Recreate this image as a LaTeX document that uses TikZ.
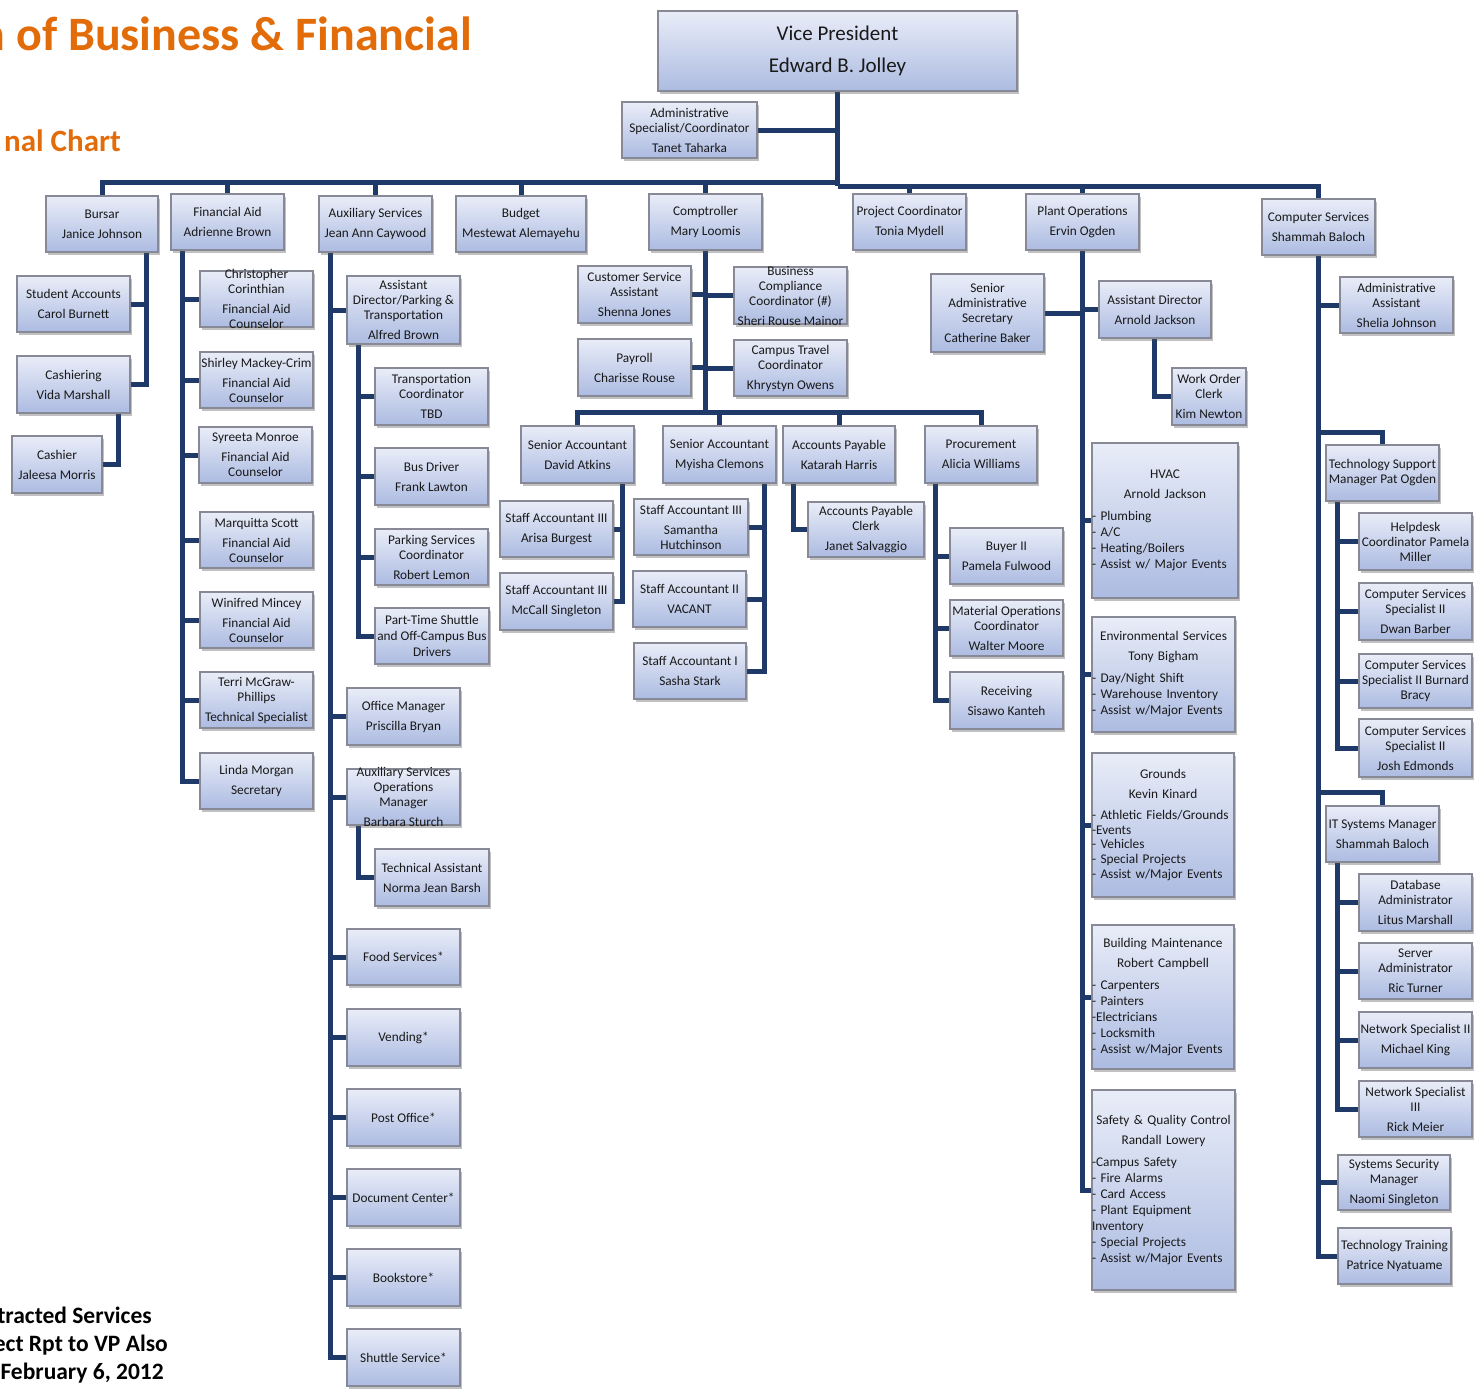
\documentclass[tikz,border=0pt]{standalone}
\usepackage{fontspec}
\setmainfont{Carlito}
\usetikzlibrary{shadows}
\definecolor{navy}{RGB}{31,58,104}
\definecolor{boxtop}{RGB}{233,237,248}
\definecolor{boxbot}{RGB}{172,187,225}
\definecolor{boxline}{RGB}{135,138,150}
\definecolor{ttl}{RGB}{227,108,10}
\pgfdeclarelayer{bg}
\pgfsetlayers{bg,main}
\newcommand\bx[7][]{%
 \pgfmathsetmacro\bw{#5-#3}\pgfmathsetmacro\bh{#6-#4}%
 \pgfmathsetmacro\bcx{(#3+#5)/2}\pgfmathsetmacro\bcy{(#4+#6)/2}%
 \node[box, minimum width=\bw pt, minimum height=\bh pt] (#2) at (\bcx,\bcy) {};
 \node[txt,#1] (#2-t) at (#2.center) {#7};}
\newcommand\lbx[8][16pt]{%
 \pgfmathsetmacro\bw{#5-#3}\pgfmathsetmacro\bh{#6-#4}%
 \pgfmathsetmacro\bcx{(#3+#5)/2}\pgfmathsetmacro\bcy{(#4+#6)/2}%
 \node[box, minimum width=\bw pt, minimum height=\bh pt] (#2) at (\bcx,\bcy) {};
 \node[txt, text width=\bw pt, align=left] (#2-t) at (#2.center)
   {{\centering #7\par}\vspace{6pt}{\baselineskip=#1\relax #8\par}};}
\begin{document}
\begin{tikzpicture}[x=1pt,y=-1pt,
  conn/.style={draw=navy,line width=5pt},
  box/.style={draw=boxline,line width=1.3pt,top color=boxtop,bottom color=boxbot,inner sep=0pt,
    drop shadow={shadow xshift=1.5pt,shadow yshift=-2.5pt,opacity=0.35,fill=black!70}},
  txt/.style={font=\fontsize{13.3}{15}\selectfont, align=center, inner sep=0pt, text=black!90},
  ttlstyle/.style={anchor=base east, inner sep=0pt, text=ttl},
  note/.style={anchor=base east, inner sep=0pt, text=black, font=\fontsize{23.5}{28}\selectfont\bfseries}]
\useasboundingbox (0,0) rectangle (1480,1390);

% titles and notes
\node[ttlstyle, font=\fontsize{48}{50}\selectfont\bfseries] (title1) at (472,50) {n of Business \& Financial};
\node[ttlstyle, font=\fontsize{31}{33}\selectfont\bfseries] (title2) at (121,151) {nal Chart};
\node[note] (n1) at (152,1323) {tracted Services};
\node[note] (n2) at (168,1351) {ect Rpt to VP Also};
\node[note] (n3) at (164,1379) {February 6, 2012};

% top
\bx[font=\fontsize{21}{32}\selectfont]{vp}{658}{11}{1017}{91}{Vice President\\Edward B. Jolley}
\bx{admspec}{622}{102}{757}{158}{Administrative\\Specialist/Coordinator\\[5pt]Tanet Taharka}

% level 1
\bx{bursar}{46}{196}{158}{252}{Bursar\\[5pt]Janice Johnson}
\bx{finaid}{171}{194}{284}{250}{Financial Aid\\[5pt]Adrienne Brown}
\bx{aux}{319}{196}{432}{252}{Auxiliary Services\\[5pt]Jean Ann Caywood}
\bx{budget}{456}{196}{586}{252}{Budget\\[5pt]Mestewat Alemayehu}
\bx{compt}{649}{194}{762}{250}{Comptroller\\[5pt]Mary Loomis}
\bx{projc}{853}{194}{966}{250}{Project Coordinator\\[5pt]Tonia Mydell}
\bx{plant}{1026}{194}{1139}{250}{Plant Operations\\[5pt]Ervin Ogden}
\bx{cs}{1262}{199}{1375}{255}{Computer Services\\[5pt]Shammah Baloch}

% bursar
\bx{stacc}{17}{276}{130}{332}{Student Accounts\\[5pt]Carol Burnett}
\bx{cashg}{17}{356}{130}{413}{Cashiering\\[5pt]Vida Marshall}
\bx{cashr}{12}{436}{102}{493}{Cashier\\[5pt]Jaleesa Morris}

% financial aid
\bx{fa1}{200}{271}{313}{327}{Christopher\\Corinthian\\[5pt]Financial Aid\\Counselor}
\bx{fa2}{200}{352}{313}{408}{Shirley Mackey-Crim\\[5pt]Financial Aid\\Counselor}
\bx{fa3}{199}{427}{312}{483}{Syreeta Monroe\\[5pt]Financial Aid\\Counselor}
\bx{fa4}{200}{512}{313}{568}{Marquitta Scott\\[5pt]Financial Aid\\Counselor}
\bx{fa5}{200}{592}{313}{648}{Winifred Mincey\\[5pt]Financial Aid\\Counselor}
\bx{fa6}{200}{672}{313}{728}{Terri McGraw-\\Phillips\\[5pt]Technical Specialist}
\bx{fa7}{200}{753}{313}{809}{Linda Morgan\\[5pt]Secretary}

% auxiliary
\bx{adpt}{347}{276}{460}{344}{Assistant\\Director/Parking \&\\Transportation\\[5pt]Alfred Brown}
\bx{trc}{375}{368}{488}{425}{Transportation\\Coordinator\\[5pt]TBD}
\bx{busd}{375}{448}{488}{505}{Bus Driver\\[5pt]Frank Lawton}
\bx{psc}{375}{529}{488}{585}{Parking Services\\Coordinator\\[5pt]Robert Lemon}
\bx{pts}{375}{608}{489}{664}{Part-Time Shuttle\\[1pt]and Off-Campus Bus\\[1pt]Drivers}
\bx{offm}{347}{688}{460}{745}{Office Manager\\[5pt]Priscilla Bryan}
\bx{asom}{347}{769}{460}{825}{Auxiliary Services\\Operations\\Manager\\[5pt]Barbara Sturch}
\bx{techa}{375}{849}{489}{906}{Technical Assistant\\[5pt]Norma Jean Barsh}
\bx{food}{347}{929}{460}{985}{Food Services*}
\bx{vend}{347}{1009}{460}{1066}{Vending*}
\bx{post}{347}{1089}{460}{1146}{Post Office*}
\bx{doc}{347}{1169}{460}{1226}{Document Center*}
\bx{book}{347}{1249}{460}{1306}{Bookstore*}
\bx{shut}{347}{1329}{460}{1386}{Shuttle Service*}

% comptroller
\bx{csa}{578}{266}{691}{323}{Customer Service\\Assistant\\[5pt]Shenna Jones}
\bx{bcc}{734}{267}{847}{324}{Business\\Compliance\\Coordinator (\#)\\[5pt]Sheri Rouse Mainor}
\bx{payr}{578}{339}{691}{396}{Payroll\\[5pt]Charisse Rouse}
\bx{ctc}{734}{340}{847}{396}{Campus Travel\\Coordinator\\[5pt]Khrystyn Owens}
\bx{sa1}{521}{426}{634}{483}{Senior Accountant\\[5pt]David Atkins}
\bx{sa2}{663}{426}{776}{483}{Senior Accountant\\[5pt]Myisha Clemons}
\bx{ap}{783}{426}{895}{483}{Accounts Payable\\[5pt]Katarah Harris}
\bx{proc}{925}{426}{1037}{483}{Procurement\\[5pt]Alicia Williams}
\bx{st1}{500}{501}{613}{557}{Staff Accountant III\\[5pt]Arisa Burgest}
\bx{st2}{500}{573}{613}{630}{Staff Accountant III\\[5pt]McCall Singleton}
\bx{st3}{634}{499}{748}{555}{Staff Accountant III\\[5pt]Samantha\\Hutchinson}
\bx{st4}{633}{571}{746}{627}{Staff Accountant II\\[5pt]VACANT}
\bx{st5}{634}{643}{746}{699}{Staff Accountant I\\[5pt]Sasha Stark}
\bx{apc}{808}{502}{924}{557}{Accounts Payable\\Clerk\\[5pt]Janet Salvaggio}
\bx{buy}{950}{528}{1063}{584}{Buyer II\\[5pt]Pamela Fulwood}
\bx{moc}{950}{600}{1063}{656}{Material Operations\\Coordinator\\[5pt]Walter Moore}
\bx{recv}{950}{672}{1063}{729}{Receiving\\[5pt]Sisawo Kanteh}

% plant operations
\bx{sas}{931}{274}{1044}{352}{Senior\\Administrative\\Secretary\\[5pt]Catherine Baker}
\bx{adpo}{1099}{281}{1211}{338}{Assistant Director\\[5pt]Arnold Jackson}
\bx{woc}{1172}{368}{1246}{425}{Work Order\\Clerk\\[5pt]Kim Newton}
\lbx{hvac}{1092}{443}{1238}{598}{HVAC\\[5pt]Arnold Jackson}{- Plumbing\\- A/C\\- Heating/Boilers\\- Assist w/ Major Events}
\lbx{env}{1092}{617}{1235}{732}{Environmental Services\\[5pt]Tony Bigham}{- Day/Night Shift\\- Warehouse Inventory\\- Assist w/Major Events}
\lbx[14.7pt]{grnd}{1092}{753}{1234}{897}{Grounds\\[5pt]Kevin Kinard}{- Athletic Fields/Grounds\\-Events\\- Vehicles\\- Special Projects\\- Assist w/Major Events}
\lbx{bldg}{1092}{925}{1234}{1069}{Building Maintenance\\[5pt]Robert Campbell}{- Carpenters\\- Painters\\-Electricians\\- Locksmith\\- Assist w/Major Events}
\lbx{safe}{1092}{1090}{1235}{1290}{Safety \& Quality Control\\[5pt]Randall Lowery}{-Campus Safety\\- Fire Alarms\\- Card Access\\- Plant Equipment\\Inventory\\- Special Projects\\- Assist w/Major Events}

% computer services
\bx{aa}{1340}{277}{1453}{333}{Administrative\\Assistant\\[5pt]Shelia Johnson}
\bx{tsm}{1326}{445}{1439}{501}{Technology Support\\Manager Pat Ogden}
\bx{hd}{1359}{513}{1472}{570}{Helpdesk\\Coordinator Pamela\\Miller}
\bx{css1}{1359}{583}{1472}{640}{Computer Services\\Specialist II\\[5pt]Dwan Barber}
\bx{css2}{1359}{654}{1472}{708}{Computer Services\\Specialist II Burnard\\Bracy}
\bx{css3}{1359}{719}{1472}{777}{Computer Services\\Specialist II\\[5pt]Josh Edmonds}
\bx{itsm}{1326}{806}{1439}{862}{IT Systems Manager\\[5pt]Shammah Baloch}
\bx{dba}{1359}{874}{1472}{931}{Database\\Administrator\\[5pt]Litus Marshall}
\bx{srv}{1359}{943}{1472}{999}{Server\\Administrator\\[5pt]Ric Turner}
\bx{ns2}{1359}{1012}{1472}{1068}{Network Specialist II\\[5pt]Michael King}
\bx{ns3}{1359}{1081}{1472}{1137}{Network Specialist\\III\\[5pt]Rick Meier}
\bx{ssm}{1338}{1155}{1450}{1210}{Systems Security\\Manager\\[5pt]Naomi Singleton}
\bx{tt}{1338}{1228}{1451}{1284}{Technology Training\\[5pt]Patrice Nyatuame}

% ---------- connectors ----------
\begin{pgfonlayer}{bg}
\coordinate (jL) at (837.5,182);
\coordinate (jR) at (837.5,186);
\draw[conn] (vp.south) -- (jR);
\draw[conn] (admspec.east) -- (admspec.east -| vp.south);
\draw[conn] (bursar.north) |- (jL);
\foreach \n in {finaid,aux,budget,compt} \draw[conn] (\n.north) -- (\n.north |- jL);
\draw[conn] (cs.north) |- (jR);
\foreach \n in {projc,plant} \draw[conn] (\n.north) -- (\n.north |- jR);

% bursar
\coordinate (bL) at ([xshift=44pt]bursar.south);
\draw[conn] (bL) |- (cashg.east);
\draw[conn] (stacc.east) -- (stacc.east -| bL);
\draw[conn] ([xshift=44.5pt]cashg.south) |- (cashr.east);

% financial aid
\coordinate (faL) at ([xshift=-45.5pt]finaid.south);
\draw[conn] (faL) |- (fa7.west);
\foreach \n in {fa1,fa2,fa3,fa4,fa5,fa6} \draw[conn] (\n.west) -- (\n.west -| faL);

% auxiliary
\coordinate (auxL) at ([xshift=-45.5pt]aux.south);
\draw[conn] (auxL) |- (shut.west);
\foreach \n in {adpt,offm,asom,food,vend,post,doc,book} \draw[conn] (\n.west) -- (\n.west -| auxL);
\coordinate (adL) at ([xshift=-45.5pt]adpt.south);
\draw[conn] (adL) |- (pts.west);
\foreach \n in {trc,busd,psc} \draw[conn] (\n.west) -- (\n.west -| adL);
\draw[conn] ([xshift=-45.5pt]asom.south) |- (techa.west);

% comptroller
\coordinate (sa1top) at ([yshift=13pt]sa1.north);
\coordinate (cB) at (sa1top -| compt.south);
\draw[conn] (compt.south) -- (cB);
\draw[conn] (sa1.north) |- (proc.north |- cB) -- (proc.north);
\foreach \n in {sa2,ap} \draw[conn] (\n.north) -- (\n.north |- cB);
\foreach \n in {csa,payr} \draw[conn] (\n.east) -- (\n.east -| compt.south);
\foreach \n in {bcc,ctc} \draw[conn] (\n.west) -- (\n.west -| compt.south);
\coordinate (s1L) at ([xshift=44.5pt]sa1.south);
\draw[conn] (s1L) |- (st2.east);
\draw[conn] (st1.east) -- (st1.east -| s1L);
\coordinate (s2L) at ([xshift=44.5pt]sa2.south);
\draw[conn] (s2L) |- (st5.east);
\foreach \n in {st3,st4} \draw[conn] (\n.east) -- (\n.east -| s2L);
\draw[conn] ([xshift=-46pt]ap.south) |- (apc.west);
\coordinate (pL) at ([xshift=-46pt]proc.south);
\draw[conn] (pL) |- (recv.west);
\foreach \n in {buy,moc} \draw[conn] (\n.west) -- (\n.west -| pL);

% plant operations
\draw[conn] (plant.south) |- (safe.west);
\draw[conn] (sas.east) -- (sas.east -| plant.south);
\foreach \n in {adpo,hvac,env,grnd,bldg} \draw[conn] (\n.west) -- (\n.west -| plant.south);
\draw[conn] ([xshift=-1pt]adpo.south) |- (woc.west);

% computer services
\draw[conn] (cs.south) |- (tt.west);
\foreach \n in {aa,ssm} \draw[conn] (\n.west) -- (\n.west -| cs.south);
\coordinate (tsmj) at ([yshift=12pt]tsm.north);
\draw[conn] (tsm.north) -- (tsmj) -- (tsmj -| cs.south);
\coordinate (itsmj) at ([yshift=13pt]itsm.north);
\draw[conn] (itsm.north) -- (itsmj) -- (itsmj -| cs.south);
\coordinate (tL) at ([xshift=-45.5pt]tsm.south);
\draw[conn] (tL) |- (css3.west);
\foreach \n in {hd,css1,css2} \draw[conn] (\n.west) -- (\n.west -| tL);
\coordinate (iL) at ([xshift=-45.5pt]itsm.south);
\draw[conn] (iL) |- (ns3.west);
\foreach \n in {dba,srv,ns2} \draw[conn] (\n.west) -- (\n.west -| iL);
\end{pgfonlayer}
\end{tikzpicture}
\end{document}
